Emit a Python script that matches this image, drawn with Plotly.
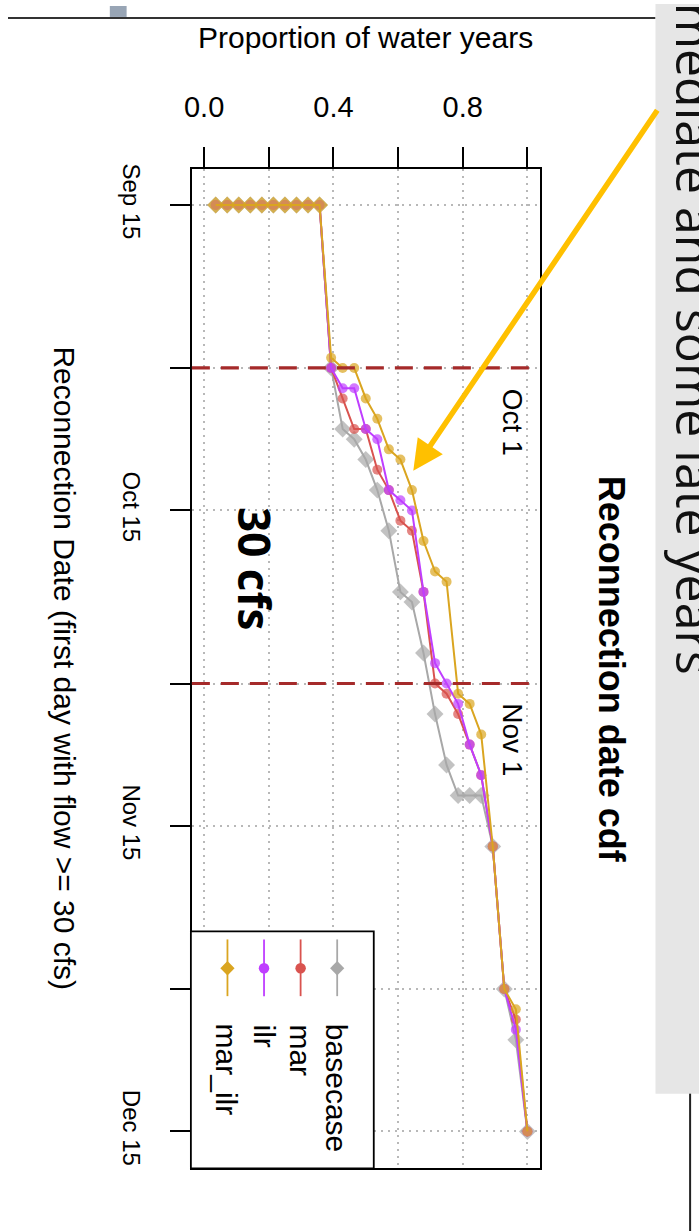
import plotly.graph_objects as go
import pandas as pd

W, H = 699, 1231
YEAR = 2000

# ---------------- data: reconnection dates (MM-DD) for the 28 water years ----------------
series_names = ["basecase", "mar", "ilr", "mar_ilr"]
series_colors = ["#A8A8A8", "#D9534F", "#BF3EFF", "#DAA520"]

basecase = ["09-15", "09-15", "09-15", "09-15", "09-15", "09-15", "09-15", "09-15", "09-15", "09-15",
            "10-01", "10-07", "10-08", "10-10", "10-13", "10-17", "10-23", "10-24", "10-29",
            "11-04", "11-09", "11-12", "11-12", "11-12", "11-17", "12-01", "12-06", "12-15"]
mar = ["09-15", "09-15", "09-15", "09-15", "09-15", "09-15", "09-15", "09-15", "09-15", "09-15",
       "10-01", "10-04", "10-07", "10-07", "10-11", "10-13", "10-16", "10-17", "10-23",
       "11-01", "11-02", "11-04", "11-07", "11-10", "11-17", "12-01", "12-04", "12-15"]
ilr = ["09-15", "09-15", "09-15", "09-15", "09-15", "09-15", "09-15", "09-15", "09-15", "09-15",
       "10-01", "10-03", "10-03", "10-07", "10-08", "10-13", "10-14", "10-15", "10-23",
       "10-30", "11-01", "11-03", "11-07", "11-10", "11-17", "12-01", "12-05", "12-15"]
mar_ilr = ["09-15", "09-15", "09-15", "09-15", "09-15", "09-15", "09-15", "09-15", "09-15", "09-15",
           "09-30", "10-01", "10-01", "10-04", "10-06", "10-09", "10-10", "10-13", "10-18",
           "10-21", "10-22", "11-02", "11-03", "11-06", "11-17", "12-01", "12-03", "12-15"]

x_tick_vals = [0.0, 0.2, 0.4, 0.6, 0.8, 1.0]
x_tick_text = ["0.0", "", "0.4", "", "0.8", ""]
date_ticks = ["09-15", "10-01", "10-15", "11-01", "11-15", "12-01", "12-15"]
date_tick_text = ["Sep 15", "", "Oct 15", "", "Nov 15", "", "Dec 15"]
ref_lines = ["10-01", "11-01"]
ref_labels = ["Oct 1", "Nov 1"]


def to_dt(md):
    return pd.to_datetime([f"{YEAR}-{d}" for d in md])


def px(x):
    return x / W


def py(y):
    return 1 - y / H


fig = go.Figure()

all_series = [basecase, mar, ilr, mar_ilr]
for name, col, dates in zip(series_names, series_colors, all_series):
    d = to_dt(sorted(dates))
    n = len(d)
    prop = [(i + 1) / n for i in range(n)]  # empirical cdf
    if name == "basecase":
        sym = ["diamond"] * n
        size = [13] * n
    elif name == "mar_ilr":
        sym = ["diamond" if v == d[0] else "circle" for v in d]
        size = [13 if v == d[0] else 10 for v in d]
    else:
        sym = ["circle"] * n
        size = [10] * n
    fig.add_trace(go.Scatter(
        x=prop, y=d, mode="lines+markers", name=name,
        line=dict(color=col, width=2),
        marker=dict(color=col, symbol=sym, size=size, line=dict(width=0)),
        cliponaxis=False,
    ))

first = to_dt(["09-15"])[0]
last = to_dt(["12-15"])[0]
y_top = first - pd.Timedelta(days=3.52)
y_bot = last + pd.Timedelta(days=3.62)

grid = dict(showgrid=True, gridcolor="#B8B8B8", griddash="2px,5px", gridwidth=1.5)

fig.update_layout(
    width=W, height=H,
    margin=dict(l=0, r=0, t=0, b=0),
    paper_bgcolor="white", plot_bgcolor="white",
    showlegend=False,
    font=dict(family="Liberation Sans, Arial, sans-serif", color="black"),
    xaxis=dict(
        domain=[186 / W, 538 / W], range=[-0.0379, 1.0385], side="top",
        tickmode="array", tickvals=x_tick_vals, ticktext=x_tick_text,
        ticks="outside", ticklen=20, tickwidth=1.5, tickcolor="black",
        tickfont=dict(size=29), ticklabelstandoff=19,
        showline=True, linecolor="black", linewidth=2, mirror=True,
        zeroline=False, **grid,
    ),
    yaxis=dict(
        domain=[1 - 1168 / H, 1 - 164 / H], type="date",
        range=[y_bot, y_top],
        tickmode="array", tickvals=to_dt(date_ticks), ticktext=date_tick_text,
        ticks="outside", ticklen=20, tickwidth=1.5, tickcolor="black",
        tickangle=90, tickfont=dict(size=24), ticklabelstandoff=18,
        showline=True, linecolor="black", linewidth=2, mirror=True,
        zeroline=False, **grid,
    ),
)

shapes = []
# reference dashed lines
for d in ref_lines:
    dd = to_dt([d])[0]
    shapes.append(dict(type="line", xref="x domain", yref="y", x0=0, x1=1, y0=dd, y1=dd,
                       line=dict(color="#A52A2A", width=3.2, dash="18px,11px"), layer="above"))

# legend box
shapes.append(dict(type="rect", xref="paper", yref="paper", x0=px(185), x1=px(370), y0=py(930), y1=py(1168),
                   fillcolor="white", line=dict(color="black", width=1.8), layer="above"))
leg_x = [333, 296, 259, 222]
leg_sym = ["diamond", "circle", "circle", "diamond"]
for xx, col, sy in zip(leg_x, series_colors, leg_sym):
    shapes.append(dict(type="line", xref="paper", yref="paper", x0=px(xx), x1=px(xx), y0=py(938), y1=py(995),
                       line=dict(color=col, width=1.8), layer="above"))
    if sy == "circle":
        r = 5.3
        shapes.append(dict(type="circle", xref="paper", yref="paper", x0=px(xx - r), x1=px(xx + r),
                           y0=py(967 + r), y1=py(967 - r), fillcolor=col, line=dict(width=0), layer="above"))
    else:
        r = 7.2
        path = (f"M {px(xx)},{py(967 - r)} L {px(xx + r)},{py(967)} L {px(xx)},{py(967 + r)} "
                f"L {px(xx - r)},{py(967)} Z")
        shapes.append(dict(type="path", xref="paper", yref="paper", path=path, fillcolor=col,
                           line=dict(width=0), layer="above"))

# slide decorations
shapes.append(dict(type="line", xref="paper", yref="paper", x0=0, x1=px(655), y0=py(12), y1=py(12),
                   line=dict(color="#333333", width=2), layer="above"))
shapes.append(dict(type="rect", xref="paper", yref="paper", x0=px(103), x1=px(120), y0=py(11), y1=py(0),
                   fillcolor="#98A5B5", line=dict(width=0), layer="above"))
shapes.append(dict(type="rect", xref="paper", yref="paper", x0=px(655), x1=px(700), y0=py(1093), y1=py(-2),
                   fillcolor="#E6E6E6", line=dict(width=0), layer="above"))
shapes.append(dict(type="line", xref="paper", yref="paper", x0=px(690), x1=px(690), y0=py(1093), y1=py(1232),
                   line=dict(color="#222222", width=2), layer="above"))
fig.update_layout(shapes=shapes)

ann = []
# axis titles
ann.append(dict(text="Proportion of water years", x=px(362), y=py(32), xref="paper", yref="paper",
                showarrow=False, font=dict(size=30), xanchor="center", yanchor="middle"))
ann.append(dict(text="Reconnection Date (first day with flow >= 30 cfs)", x=px(57), y=py(666),
                xref="paper", yref="paper", showarrow=False, textangle=90, font=dict(size=30),
                xanchor="center", yanchor="middle"))
ann.append(dict(text="<b>Reconnection date cdf</b>", x=px(610), y=py(666), xref="paper", yref="paper",
                showarrow=False, textangle=90, font=dict(size=36), xanchor="center", yanchor="middle"))
# reference line labels
for lab, yc in zip(ref_labels, [418, 737]):
    ann.append(dict(text=lab, x=px(510), y=py(yc), xref="paper", yref="paper", showarrow=False,
                    textangle=90, font=dict(size=28), xanchor="center", yanchor="middle"))
# 30 cfs
ann.append(dict(text="<b>30 cfs</b>", x=px(250), y=py(565), xref="paper", yref="paper", showarrow=False,
                textangle=90, font=dict(size=44, family="Open Sans, sans-serif"),
                xanchor="center", yanchor="middle"))
# legend labels
for xx, name in zip(leg_x, series_names):
    ann.append(dict(text=name, x=px(xx), y=py(1021), xref="paper", yref="paper", showarrow=False,
                    textangle=90, font=dict(size=30), xanchor="center", yanchor="top"))
# arrow
ann.append(dict(text="", x=px(410), y=py(467), xref="paper", yref="paper", showarrow=True,
                ax=655 - 410, ay=105 - 467, axref="pixel", ayref="pixel",
                arrowcolor="#FFC000", arrowwidth=5.5, arrowhead=2, arrowsize=1.1, standoff=0))
# slide side text (cut by the page edge, as in the source)
ann.append(dict(text="intermediate and some late years", x=px(659), y=py(-115), xref="paper", yref="paper",
                showarrow=False, textangle=90, font=dict(size=50, family="Open Sans, sans-serif", color="#111111"),
                xanchor="left", yanchor="top"))
fig.update_layout(annotations=ann)

fig.write_html("out.html")
